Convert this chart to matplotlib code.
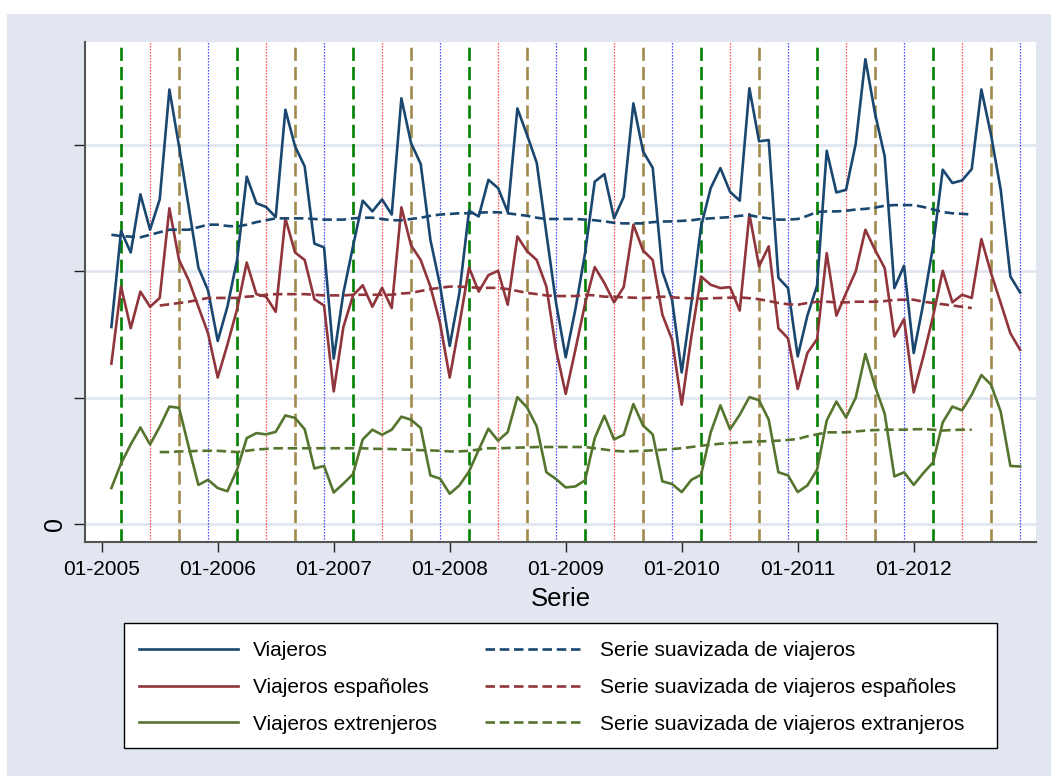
import numpy as np
import pandas as pd
import matplotlib
matplotlib.use("Agg")
import matplotlib.pyplot as plt
from matplotlib.patches import Rectangle

plt.rcParams['font.family'] = ['Liberation Sans', 'DejaVu Sans']

# ---- data (miles de viajeros, mensual) ----
meses = pd.period_range('2005-02', '2012-12', freq='M')

viajeros = [
    156, 232, 215, 261, 233, 257, 344, 299, 251, 203, 185,
    145, 172, 209, 275, 254, 251, 243, 328, 299, 283, 222, 219,
    131, 183, 220, 256, 247.5, 257, 245, 337, 301.6, 285, 225, 189,
    141, 183, 248, 243.5, 272.5, 266, 247, 329, 308, 286, 230, 175,
    132, 170, 214.5, 271, 277, 242, 259, 333, 295, 282, 200, 177.6,
    120, 175, 235.6, 266, 281.8, 263, 256, 345, 303, 304, 195, 186.8,
    132.7, 165, 188.7, 295.5, 262.5, 264.6, 301, 368, 325, 291, 186.8, 204.5,
    135.4, 175, 219.8, 280.5, 270, 272, 281, 344, 308, 264.6, 196, 183.4,
]

espanoles = [
    127, 188, 155, 184, 172, 179, 250, 209, 193, 172, 151,
    116, 142, 170, 207, 182, 180, 168, 242, 215, 209, 178, 173,
    105, 156, 181, 189, 172, 187, 171, 250.7, 220.6, 209, 188, 159,
    116, 158, 203, 184, 197, 200.5, 173.6, 227.7, 216, 209, 188, 138,
    103, 138, 174.4, 203.4, 190.8, 175.5, 187.6, 237, 216.6, 209, 165.7, 146,
    94.5, 148.5, 196, 189.4, 186.8, 187.6, 169, 245.4, 204, 219.8, 155, 147,
    107, 135.4, 146.4, 214.5, 165, 182.8, 200, 233, 217, 202.6, 148.5, 162.3,
    104.2, 132.7, 164.4, 200.5, 175.5, 181.5, 179, 225.6, 198.7, 175, 151, 138,
]

extranjeros = [
    28.5, 48, 63, 76.5, 63, 77, 93, 92, 61, 31, 35,
    28.5, 26, 43, 68, 72, 71, 73, 86, 84, 75, 44, 46,
    25, 32, 39.6, 67, 74.7, 70.7, 74.7, 85, 82.6, 76, 38.5, 36,
    24, 30.6, 41.7, 58.8, 75.5, 66, 72.8, 100.5, 92.3, 77.3, 41, 35.6,
    29, 29.8, 34.6, 68, 85.7, 67, 70.7, 95, 78, 71, 33.8, 31.7,
    25.3, 35, 39, 72.6, 94, 75, 86.5, 100.5, 98, 82.6, 41, 38.5,
    25.3, 30.6, 43, 82, 97, 84.4, 100, 134.6, 109, 87.3, 37.7, 41,
    31, 40.4, 48.8, 80.5, 93, 90, 102.4, 118, 110.3, 89, 46, 45.6,
]

# series suavizadas
meses_suav_viajeros = pd.period_range('2005-02', '2012-07', freq='M')
suav_viajeros = [
    229, 228, 227.5, 227, 229, 231, 233, 233, 233, 235, 237,
    237, 236, 235.5, 237, 239, 240.5, 242, 242, 242, 242, 241.5, 241,
    241, 241, 242, 242.5, 242.5, 241.5, 240.5, 240.5, 241.5, 242.5, 244, 245,
    245.5, 246, 246, 246.5, 246.8, 246.8, 246, 245, 244, 242.5, 241.5, 241.5,
    241.5, 241.5, 241, 240.5, 239.6, 238.5, 238, 238, 238, 239, 239.5, 239.6,
    240, 240.5, 241.5, 242, 242.5, 243, 244, 244.5, 243, 242, 241, 241,
    241.5, 244, 247, 247.5, 247.5, 248, 249, 249.5, 250.5, 252, 252.5, 252.5,
    252.5, 251, 249, 247, 246, 245.6, 245,
]

meses_suav = pd.period_range('2005-07', '2012-07', freq='M')
suav_espanoles = [
    173, 174, 175, 176, 177.5, 179,
    179, 179, 179, 180, 180.5, 181.5, 182, 182, 182, 182, 181.5, 181,
    181, 181, 181.5, 181.5, 181.5, 181.5, 181.5, 182.5, 183, 184.5, 186, 187,
    188, 188, 187.5, 187, 187, 187, 186, 184.5, 183, 182, 181, 180.5,
    180.5, 180.5, 181.5, 181, 180, 180, 179.5, 179.2, 179, 179.2, 180, 179.5,
    179, 178.7, 178.4, 178.7, 179, 179.2, 179.4, 178.8, 178, 176.5, 175, 174,
    173.6, 175, 176, 176, 175.5, 175.5, 176, 176, 176, 176.5, 177.5, 177.6,
    177.6, 176, 175, 174, 173, 172, 171,
]
suav_extranjeros = [
    57, 57, 57.5, 57.5, 58, 58,
    58, 57.5, 57, 58, 59, 59.5, 60, 60, 60, 60, 60, 60,
    60, 60, 60, 60, 59.6, 59.5, 59.4, 59, 58.8, 58.5, 58.3, 58,
    57.5, 57.5, 58, 59, 60, 60, 60.2, 60.5, 60.7, 61, 61, 61,
    61, 61, 61, 60, 59, 58, 57.5, 57.7, 58, 58.4, 58.8, 59.4,
    60, 61, 62, 62.8, 63.6, 64.1, 64.6, 65, 65.4, 65.7, 66, 66.6,
    67.3, 69.5, 71, 72.6, 72.6, 72.6, 73.3, 74, 74.4, 74.7, 74.7, 74.7,
    75, 75.2, 74.7, 74, 74.5, 74.7, 74.7,
]

etiquetas_x = ['01-2005', '01-2006', '01-2007', '01-2008',
               '01-2009', '01-2010', '01-2011', '01-2012']
anios = list(range(2005, 2013))


def indice(periodos):
    """Meses transcurridos desde enero de 2005."""
    return np.array([(p.year - 2005) * 12 + p.month - 1 for p in periodos])


# ---- estilo ----
W, H = 1051, 776
FONDO = '#E1E6F0'
AZUL = '#1A476F'
GRANATE = '#90353B'
VERDE = '#55752F'

fig = plt.figure(figsize=(W / 100, H / 100), dpi=100)
fig.patch.set_facecolor('white')
fig.add_artist(Rectangle((7 / W, 0), 1 - 7 / W, (H - 14) / H,
                         transform=fig.transFigure, facecolor=FONDO,
                         edgecolor='none', zorder=-10))

ax = fig.add_axes([85 / W, (H - 542) / H, 951 / W, 500 / H])
ax.set_facecolor('white')

# líneas de referencia trimestrales
for a in anios:
    base = (a - 2005) * 12
    ax.axvline(base + 2, color='#008000', lw=1.9, dashes=(5.0, 2.3), zorder=1)
    ax.axvline(base + 5, color='#FF2020', lw=0.9, dashes=(1.0, 1.4), zorder=1)
    ax.axvline(base + 8, color='#A08A4C', lw=1.9, dashes=(5.0, 2.3), zorder=1)
    ax.axvline(base + 11, color='#2020FF', lw=0.9, dashes=(1.0, 1.4), zorder=1)

x = indice(meses)
xs1 = indice(meses_suav_viajeros)
xs2 = indice(meses_suav)

lw = 1.9
h1, = ax.plot(x, viajeros, color=AZUL, lw=lw, zorder=3, label='Viajeros')
h2, = ax.plot(x, espanoles, color=GRANATE, lw=lw, zorder=3,
              label='Viajeros españoles')
h3, = ax.plot(x, extranjeros, color=VERDE, lw=lw, zorder=3,
              label='Viajeros extrenjeros')
h4, = ax.plot(xs1, suav_viajeros, color=AZUL, lw=lw, dashes=(3.6, 1.8),
              zorder=4, label='Serie suavizada de viajeros')
h5, = ax.plot(xs2, suav_espanoles, color=GRANATE, lw=lw, dashes=(3.6, 1.8),
              zorder=4, label='Serie suavizada de viajeros españoles')
h6, = ax.plot(xs2, suav_extranjeros, color=VERDE, lw=lw, dashes=(3.6, 1.8),
              zorder=4, label='Serie suavizada de viajeros extranjeros')

# ejes
ax.set_xlim(-1.73, 96.65)
ax.set_ylim(-14.2, 381.6)
ax.set_yticks([0, 100, 200, 300])
ax.set_yticklabels(['0', '', '', ''], rotation=90, va='center', fontsize=18)
ax.set_xticks([(a - 2005) * 12 for a in anios])
ax.set_xticklabels(etiquetas_x, fontsize=15)
ax.yaxis.grid(True, color=FONDO, lw=2.0, zorder=0)
ax.set_axisbelow(True)
for s in ('top', 'right'):
    ax.spines[s].set_visible(False)
for s in ('left', 'bottom'):
    ax.spines[s].set_color('#555555')
    ax.spines[s].set_linewidth(1.5)
ax.tick_params(axis='y', length=8, width=1, color='#222222', pad=5)
ax.tick_params(axis='x', length=7.2, width=1, color='#222222', pad=6)
ax.set_xlabel('Serie', fontsize=18.5, labelpad=5.5)

# leyenda con marco propio
fig.add_artist(Rectangle((124 / W, (H - 748) / H), 873 / W, 125 / H,
                         transform=fig.transFigure, facecolor='white',
                         edgecolor='black', lw=1.0, zorder=1))
leg = fig.legend(handles=[h1, h2, h3, h4, h5, h6], ncol=2, loc='center',
                 bbox_to_anchor=(551.5 / W, (H - 687.5) / H),
                 fontsize=15, handlelength=4.75, handletextpad=0.75,
                 columnspacing=2.3, labelspacing=0.85, borderpad=0.0,
                 frameon=False)
leg.set_zorder(2)

fig.savefig('out.png', dpi=100, facecolor=fig.get_facecolor())
